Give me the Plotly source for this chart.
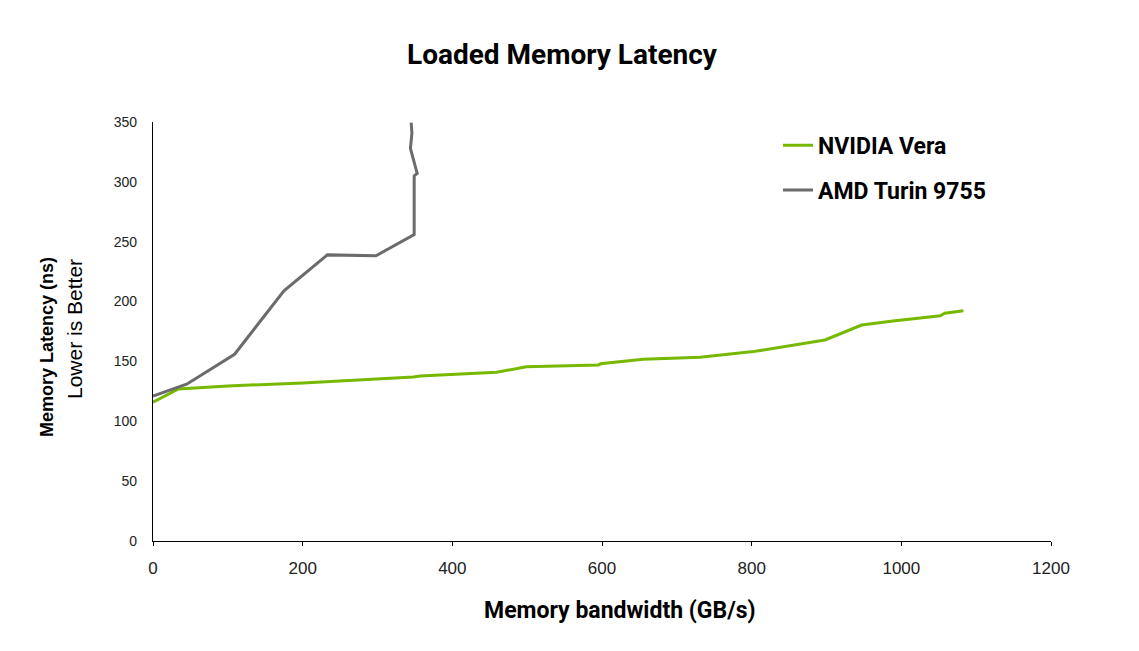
import plotly.graph_objects as go

# NVIDIA Vera: bandwidth (GB/s) vs latency (ns)
vera_bw = [0, 34, 100, 200, 348, 357, 459, 499, 595, 598, 655, 731, 802, 898, 947, 989, 1052, 1058, 1083]
vera_lat = [116, 127, 129.5, 132, 137, 137.8, 140.9, 145.6, 147, 148, 151.8, 153.4, 158.2, 167.9, 180.4, 183.8, 188.2, 190.2, 192.4]

# AMD Turin 9755
amd_bw = [0, 45, 109, 175, 233, 298, 349, 349, 353, 344, 346, 345]
amd_lat = [121, 131, 156, 209, 239, 238.3, 256, 305, 307, 328, 340.6, 349.5]

x_ticks = [0, 200, 400, 600, 800, 1000, 1200]
y_ticks = [0, 50, 100, 150, 200, 250, 300, 350]

title_text = "Loaded Memory Latency"
x_title = "Memory bandwidth (GB/s)"
y_title = "Memory Latency (ns)"
y_subtitle = "Lower is Better"

GREEN = "#76b900"
GRAY = "#6b6b6b"
FONT = "Roboto, Liberation Sans, sans-serif"
ARIAL = "Liberation Sans, Arial, sans-serif"

fig = go.Figure()
fig.add_trace(go.Scatter(x=vera_bw, y=vera_lat, mode="lines", name="NVIDIA Vera",
                         line=dict(color=GREEN, width=3), legendgroup="a"))
fig.add_trace(go.Scatter(x=amd_bw, y=amd_lat, mode="lines", name="AMD Turin 9755",
                         line=dict(color=GRAY, width=3), legendgroup="b"))

W, H = 1131, 643
L, T, PW, PH = 145, 114, 898, 419


def px(xp):
    return (xp - L) / PW


def py(yp):
    return 1 - (yp - T) / PH


fig.update_layout(
    width=W, height=H,
    margin=dict(l=L, r=W - L - PW, t=T, b=H - T - PH),
    paper_bgcolor="white", plot_bgcolor="white",
    title=dict(text=f"<b>{title_text}</b>", x=554 / W, xanchor="center",
               y=1 - 46 / H, yanchor="middle", yref="container",
               font=dict(family=FONT, size=28, color="#000")),
    legend=dict(x=0.696, xanchor="left", y=0.996, yanchor="top",
                font=dict(family=FONT, size=23, color="#000", weight="bold"),
                tracegroupgap=12, itemwidth=30, bgcolor="rgba(0,0,0,0)"),
    xaxis=dict(range=[0, 1200], tickvals=x_ticks, showgrid=False, zeroline=False,
               showline=True, linecolor="#000", linewidth=1.3,
               ticks="outside", ticklen=4, tickcolor="#000", ticklabelstandoff=7,
               tickfont=dict(family=ARIAL, size=17, color="#222")),
    yaxis=dict(range=[0, 350], tickvals=y_ticks, showgrid=False, zeroline=False,
               showline=True, linecolor="#000", linewidth=1.3, ticks="",
               ticklabelstandoff=12,
               tickfont=dict(family=ARIAL, size=14, color="#222")),
    annotations=[
        dict(text=f"<b>{x_title}</b>", xref="paper", yref="paper",
             x=px(611.5), y=py(602), xanchor="center", yanchor="middle",
             showarrow=False, font=dict(family=FONT, size=23, color="#000")),
        dict(text=f"<b>{y_title}</b>", xref="paper", yref="paper", textangle=-90,
             x=px(39), y=py(247), xanchor="center", yanchor="top",
             showarrow=False, font=dict(family=ARIAL, size=18, color="#000")),
        dict(text=y_subtitle, xref="paper", yref="paper", textangle=-90,
             x=px(66), y=py(249), xanchor="center", yanchor="top",
             showarrow=False, font=dict(family=ARIAL, size=21, color="#000")),
    ],
)

fig.write_html("out.html")
